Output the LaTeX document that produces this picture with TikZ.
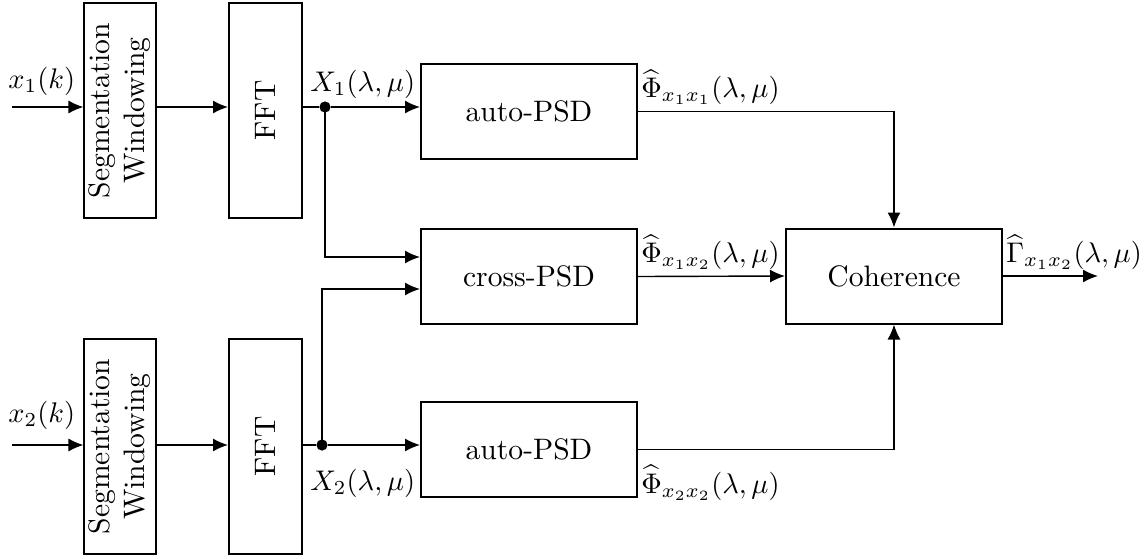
\documentclass[tikz,border=0pt]{standalone}
\usetikzlibrary{arrows.meta}
% texts are set at 10pt and enlarged as a whole
\newcommand{\magtxt}[1]{\scalebox{1.48}{#1}}
\newcommand{\maglbl}[1]{\scalebox{1.42}{#1}}
\begin{document}
\begin{tikzpicture}[x=0.5pt,y=-0.5pt,
  blk/.style={draw, line width=1pt, inner sep=0pt, align=center},
  wide/.style={blk, minimum width=108pt, minimum height=47.5pt},
  tall/.style={blk, minimum height=107.5pt},
  wire/.style={line width=0.7pt},
  sig/.style={wire, -{Latex[length=7.5pt,width=6.5pt]}},
  lbl/.style={inner sep=0pt},
  dotm/.style={circle, fill, inner sep=0pt, minimum size=5.6pt}]
\useasboundingbox (0,0) rectangle (1145,558);

% processing blocks
\node[tall, minimum width=35pt]   (seg1) at (120,110.5) {\magtxt{\rotatebox{90}{\begin{tabular}{@{}c@{}}Segmentation\\Windowing\end{tabular}}}};
\node[tall, minimum width=36.5pt] (fft1) at (265.5,110.5) {\magtxt{\rotatebox{90}{FFT}}};
\node[tall, minimum width=35pt]   (seg2) at (120,446.5) {\magtxt{\rotatebox{90}{\begin{tabular}{@{}c@{}}Segmentation\\Windowing\end{tabular}}}};
\node[tall, minimum width=36.5pt] (fft2) at (265.5,446.5) {\magtxt{\rotatebox{90}{FFT}}};
\node[wide] (auto1) at (529,111.5) {\magtxt{auto-PSD}};
\node[wide] (cross) at (529,276.5) {\magtxt{cross-PSD}};
\node[wide] (auto2) at (529,449.5) {\magtxt{auto-PSD}};
\node[wide] (coh)   at (894,276)   {\magtxt{Coherence}};

% branch points and free ends
\node[dotm] (d1) at (325,107) {};
\node[dotm] (d2) at (322,445) {};
\coordinate (in1) at (12,107);
\coordinate (in2) at (12,445);
\coordinate (out) at (1098,276);
\coordinate (b1) at (0,257);
\coordinate (b2) at (0,289);

% signal flow
\draw[sig] (in1) -- (in1 -| seg1.west);
\draw[sig] (seg1.east |- in1) -- (fft1.west |- in1);
\draw[wire] (fft1.east |- in1) -- (d1);
\draw[sig] (d1) -- (d1 -| auto1.west);
\draw[sig] (d1.center) |- (cross.west |- b1);

\draw[sig] (in2) -- (in2 -| seg2.west);
\draw[sig] (seg2.east |- in2) -- (fft2.west |- in2);
\draw[wire] (fft2.east |- in2) -- (d2);
\draw[sig] (d2) -- (d2 -| auto2.west);
\draw[sig] (d2.center) |- (cross.west |- b2);

\draw[sig] (auto1.east) -| (coh.north);
\draw[sig] (auto2.east) -| (coh.south);
\draw[sig] (cross.east) -- (coh.west);
\draw[sig] (coh.east) -- (out);

% signal labels
\node[lbl, anchor=south west] (lx1) at (8,96) {\maglbl{$x_1(k)$}};
\node[lbl, anchor=south west] (lx2) at (8,430) {\maglbl{$x_2(k)$}};
\node[lbl, anchor=south west] (lX1) at (310,99) {\maglbl{$X_1(\lambda,\mu)$}};
\node[lbl, anchor=north west] (lX2) at (310,469) {\maglbl{$X_2(\lambda,\mu)$}};
\node[lbl, anchor=south west] (lp11) at (641,105) {\maglbl{$\widehat{\Phi}_{x_1x_1}(\lambda,\mu)$}};
\node[lbl, anchor=south west] (lp12) at (641,270) {\maglbl{$\widehat{\Phi}_{x_1x_2}(\lambda,\mu)$}};
\node[lbl, anchor=north west] (lp22) at (641,465) {\maglbl{$\widehat{\Phi}_{x_2x_2}(\lambda,\mu)$}};
\node[lbl, anchor=south west] (lg)   at (1006,270) {\maglbl{$\widehat{\Gamma}_{x_1x_2}(\lambda,\mu)$}};
\end{tikzpicture}
\end{document}
